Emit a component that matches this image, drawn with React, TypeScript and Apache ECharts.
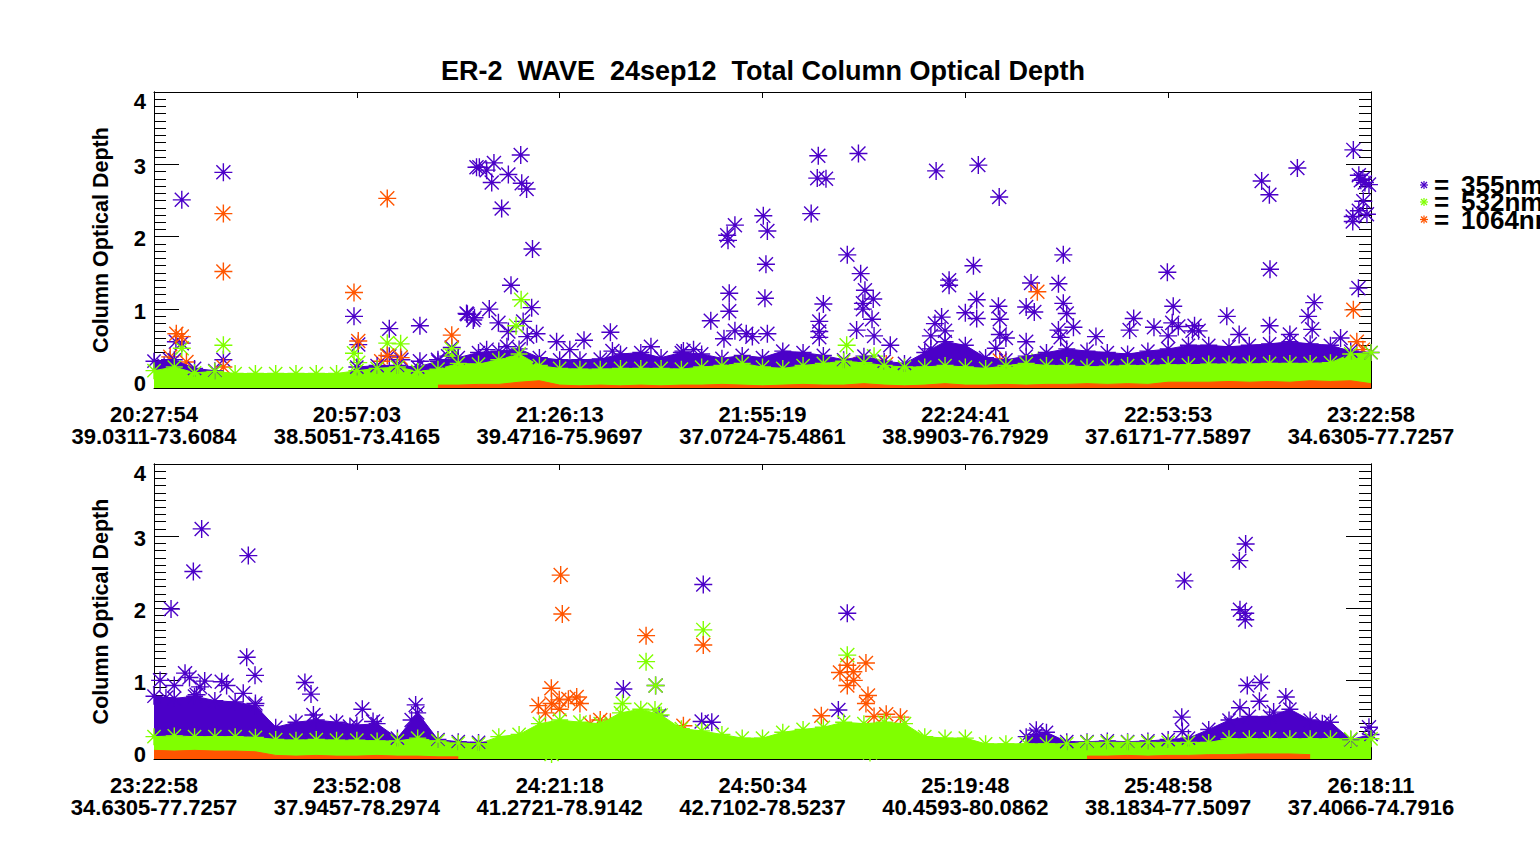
import { useEffect, useRef } from 'react';
import * as echarts from 'echarts';

// x axis tick labels (time + lat/lon), one entry per major tick
const TOP_TIMES = ['20:27:54', '20:57:03', '21:26:13', '21:55:19', '22:24:41', '22:53:53', '23:22:58'];
const TOP_COORDS = ['39.0311-73.6084', '38.5051-73.4165', '39.4716-75.9697', '37.0724-75.4861', '38.9903-76.7929', '37.6171-77.5897', '34.6305-77.7257'];
const BOTTOM_TIMES = ['23:22:58', '23:52:08', '24:21:18', '24:50:34', '25:19:48', '25:48:58', '26:18:11'];
const BOTTOM_COORDS = ['34.6305-77.7257', '37.9457-78.2974', '41.2721-78.9142', '42.7102-78.5237', '40.4593-80.0862', '38.1834-77.5097', '37.4066-74.7916'];
const Y_LABELS = [0, 1, 2, 3, 4];
const LEGEND_NAMES = ['355nm', '532nm', '1064nm'];

// dense baseline bands: upper edge read every 0.1 tick-interval (x = 0..6)
const BAND_STEP = 0.1;
const TOP_355_BAND = [
  0.28, 0.30, 0.18, 0.15, null, null, null, null, null, null,
  0.20, 0.22, 0.22, 0.20, 0.28, 0.33, 0.40, 0.42, 0.45, 0.33,
  0.30, 0.30, 0.31, 0.38, 0.40, 0.33, 0.40, 0.38, 0.32, 0.36,
  0.33, 0.42, 0.40, 0.36, 0.30, 0.35, 0.28, 0.25, 0.40, 0.55,
  0.50, 0.33, 0.30, 0.35, 0.40, 0.45, 0.42, 0.40, 0.38, 0.42,
  0.45, 0.50, 0.50, 0.48, 0.50, 0.52, 0.55, 0.52, 0.50, 0.42, 0.40,
];
const TOP_532_BAND = [
  0.15, 0.20, 0.12, 0.14, 0.11, 0.11, 0.11, 0.11, 0.11, 0.11,
  0.15, 0.18, 0.20, 0.14, 0.17, 0.25, 0.24, 0.30, 0.38, 0.22,
  0.18, 0.17, 0.17, 0.18, 0.18, 0.18, 0.17, 0.20, 0.22, 0.25,
  0.20, 0.18, 0.22, 0.25, 0.28, 0.26, 0.22, 0.20, 0.20, 0.22,
  0.20, 0.18, 0.22, 0.25, 0.22, 0.22, 0.20, 0.21, 0.22, 0.22,
  0.23, 0.23, 0.24, 0.24, 0.24, 0.25, 0.25, 0.25, 0.26, 0.38, 0.40,
];
const TOP_1064_BAND = [
  null, null, null, null, null, null, null, null, null, null,
  null, null, null, null, -0.05, -0.05, -0.04, -0.04, -0.01, 0.01,
  -0.05, -0.06, -0.05, -0.06, -0.05, -0.06, -0.05, -0.05, -0.04, -0.05,
  -0.06, -0.05, -0.04, -0.05, -0.05, -0.03, -0.05, -0.06, -0.05, -0.03,
  -0.05, -0.05, -0.04, -0.05, -0.04, -0.04, -0.03, -0.04, -0.03, -0.04,
  -0.01, -0.01, -0.01, 0.0, -0.01, 0.0, -0.01, 0.01, 0.0, 0.01, -0.03,
];
const BOTTOM_355_BAND = [
  0.78, 0.75, 0.78, 0.72, 0.70, 0.65, 0.35, 0.42, 0.45, 0.42,
  0.38, 0.40, 0.20, 0.55, 0.18, 0.15, 0.14, null, null, null,
  null, null, null, null, null, null, null, null, null, null,
  null, null, null, null, null, null, null, null, null, null,
  null, null, null, 0.22, 0.28, 0.15, 0.15, 0.16, 0.15, 0.16,
  0.18, 0.20, 0.32, 0.45, 0.50, 0.50, 0.60, 0.45, 0.42, 0.18, 0.25,
];
const BOTTOM_532_BAND = [
  0.22, 0.23, 0.22, 0.22, 0.22, 0.21, 0.18, 0.17, 0.18, 0.17,
  0.17, 0.16, 0.16, 0.20, 0.16, 0.13, 0.12, 0.22, 0.25, 0.40,
  0.45, 0.42, 0.40, 0.55, 0.60, 0.52, 0.33, 0.30, 0.25, 0.20,
  0.20, 0.28, 0.32, 0.35, 0.42, 0.40, 0.42, 0.40, 0.22, 0.20,
  0.20, 0.12, 0.12, 0.12, 0.12, 0.12, 0.14, 0.14, 0.14, 0.14,
  0.14, 0.14, 0.14, 0.19, 0.19, 0.19, 0.19, 0.19, 0.19, 0.19, 0.19,
];
const BOTTOM_1064_BAND = [
  0.03, 0.02, 0.03, 0.02, 0.02, 0.01, -0.04, -0.05, -0.04, -0.05,
  -0.05, -0.04, -0.05, -0.05, -0.06, -0.06, null, null, null, null,
  null, null, null, null, null, null, null, null, null, null,
  null, null, null, null, null, null, null, null, null, null,
  null, null, null, null, null, null, -0.05, -0.05, -0.04, -0.05,
  -0.04, -0.04, -0.03, -0.03, -0.02, -0.02, -0.02, -0.03, null, null, null,
];

// individual asterisks above the bands [x in tick-intervals, optical depth]
const TOP_355_PTS = [
  [0.05, 0.22], [0.079, 0.30], [0.108, 0.55], [0.137, 0.53], [0.137, 2.51], [0.342, 2.89], [0.342, 0.30],
  [0.986, 0.90], [1.007, 0.51], [1.16, 0.73], [1.16, 0.35], [1.22, 0.30], [1.311, 0.77], [1.311, 0.28],
  [1.40, 0.30], [1.45, 0.35], [1.468, 0.47], [1.541, 0.94], [1.58, 0.88], [1.59, 2.96],
  [1.604, 2.96], [1.64, 2.92], [1.676, 3.02], [1.665, 2.75], [1.747, 2.86], [1.808, 3.13], [1.813, 2.74],
  [1.837, 2.66], [1.714, 2.39], [1.866, 1.83], [1.76, 1.33], [1.545, 0.93], [1.574, 0.85], [1.653, 1.00],
  [1.698, 0.81], [1.747, 0.69], [1.82, 0.83], [1.862, 1.02], [1.886, 0.66], [1.84, 0.62], [1.985, 0.55],
  [2.05, 0.44], [2.12, 0.57], [2.25, 0.68], [2.26, 0.42], [2.45, 0.48], [2.61, 0.42], [2.66, 0.44],
  [1.64, 0.44], [1.74, 0.48],
  [3.275, 3.12], [3.27, 2.81], [3.313, 2.80], [3.24, 2.32], [2.864, 2.16], [2.826, 2.02], [2.83, 1.95],
  [3.004, 2.29], [3.024, 2.08], [3.017, 1.62], [3.012, 1.15], [2.836, 1.22], [2.836, 0.97], [2.745, 0.84],
  [3.30, 1.07], [3.28, 0.83], [3.28, 0.69], [2.864, 0.70], [2.92, 0.66], [2.95, 0.62], [3.024, 0.66],
  [2.81, 0.59], [3.28, 0.61],
  [3.473, 3.15], [3.856, 2.91], [4.064, 2.99], [4.167, 2.55], [3.418, 1.75], [3.484, 1.49], [3.505, 1.26],
  [3.546, 1.14], [3.495, 1.08], [3.495, 1.00], [3.54, 0.86], [3.464, 0.71], [3.55, 0.63], [3.63, 0.50],
  [3.92, 1.40], [3.92, 1.33], [4.04, 1.60], [4.056, 1.13], [4.0, 0.95], [4.056, 0.87], [3.883, 0.89],
  [3.85, 0.80], [3.9, 0.70], [3.83, 0.63], [3.83, 0.45], [4.163, 1.04], [4.17, 0.86], [4.17, 0.65],
  [4.2, 0.60], [4.15, 0.46], [4.30, 0.55], [4.30, 1.03], [4.324, 1.36], [4.34, 0.96], [4.483, 1.75],
  [4.459, 1.35], [4.483, 1.08], [4.5, 0.94], [4.533, 0.75], [4.459, 0.71], [4.47, 0.61], [4.996, 1.51],
  [5.025, 1.04], [5.02, 0.81], [5.05, 0.76], [5.0, 0.63], [4.83, 0.87], [4.81, 0.71], [4.93, 0.75],
  [4.644, 0.62], [5.12, 0.70], [5.15, 0.70],
  [5.461, 2.77], [5.499, 2.58], [5.637, 2.95], [5.502, 1.55], [5.913, 3.20], [5.94, 2.85], [5.96, 2.80],
  [5.97, 2.75], [5.99, 2.72], [5.95, 2.78], [5.962, 2.49], [5.91, 2.28], [5.91, 2.21], [5.94, 2.36],
  [5.98, 2.31], [5.938, 1.29], [5.72, 1.09], [5.69, 0.90], [5.289, 0.90], [5.13, 0.77], [5.5, 0.77],
  [5.71, 0.72], [5.6, 0.65], [5.35, 0.65], [5.85, 0.60],
];
const TOP_532_PTS = [
  [0.137, 0.46], [0.342, 0.50], [0.986, 0.39], [1.007, 0.26], [1.15, 0.53], [1.216, 0.52], [1.468, 0.45],
  [1.47, 0.35], [1.785, 0.77], [1.81, 1.13], [3.415, 0.50], [4.36, 0.29], [3.55, 0.35],
];
const TOP_1064_PTS = [
  [0.08, 0.34], [0.11, 0.66], [0.137, 0.62], [0.16, 0.27], [0.342, 2.32], [0.342, 1.52], [0.342, 0.20],
  [0.986, 1.23], [1.007, 0.56], [1.12, 0.28], [1.15, 2.53], [1.15, 0.36], [1.216, 0.33], [1.468, 0.64],
  [3.42, 0.24], [3.61, 0.24], [4.17, 0.29], [4.355, 1.24], [5.75, 0.32], [5.913, 0.99], [5.93, 0.55],
  [5.96, 0.44],
];
const BOTTOM_355_PTS = [
  [0.03, 1.00], [0.084, 1.99], [0.059, 0.76], [0.10, 0.93], [0.153, 1.10], [0.175, 1.04], [0.194, 2.51],
  [0.21, 0.80], [0.227, 0.91], [0.235, 3.10], [0.25, 0.99], [0.334, 0.98], [0.358, 0.93], [0.44, 0.82],
  [0.457, 1.32], [0.465, 2.73], [0.498, 1.07], [0.5, 0.68], [0.744, 0.97], [0.774, 0.81], [0.786, 0.52],
  [0.966, 0.36], [1.027, 0.60], [1.08, 0.43], [1.27, 0.45], [1.29, 0.66],
  [2.314, 0.88], [2.473, 0.93], [2.49, 0.51], [2.70, 0.43], [2.708, 2.33], [2.75, 0.42], [3.374, 0.59],
  [3.418, 1.93],
  [4.35, 0.31], [4.35, 0.25], [5.067, 0.49], [5.07, 0.29], [5.08, 2.38], [5.31, 0.39], [5.351, 2.66],
  [5.354, 1.98], [5.354, 0.62], [5.38, 1.93], [5.38, 1.84], [5.382, 2.89], [5.39, 0.93], [5.45, 0.71],
  [5.458, 0.97], [5.52, 0.56], [5.58, 0.77], [5.6, 0.43], [5.76, 0.40], [5.99, 0.35],
];
const BOTTOM_532_PTS = [
  [2.31, 0.68], [2.426, 1.26], [2.47, 0.59], [2.473, 0.93], [2.708, 1.70], [3.418, 1.35], [1.96, -0.02],
  [3.53, 0.0],
];
const BOTTOM_1064_PTS = [
  [0.59, 0.25], [1.895, 0.65], [1.959, 0.89], [1.96, 0.68], [1.998, 0.73], [2.005, 2.46], [2.013, 1.92],
  [2.043, 0.74], [2.084, 0.77], [2.10, 0.68], [2.20, 0.45], [2.25, 0.42], [2.426, 1.62], [2.61, 0.37],
  [2.708, 1.49], [3.29, 0.51], [3.382, 1.11], [3.418, 1.21], [3.418, 0.93], [3.448, 1.12], [3.45, 1.00],
  [3.51, 1.24], [3.52, 0.79], [3.51, 0.68], [3.55, 0.50], [3.61, 0.53], [3.68, 0.49], [1.93, 0.55],
  [2.0, 0.60], [2.15, 0.40], [2.3, 0.38],
];

const PURPLE = '#4b00c8';
const GREEN = '#80ff00';
const ORANGE = '#ff5500';
const FONT = '"Liberation Sans", Arial, Helvetica, sans-serif';
const STAR = 'path://M5,0L5,10M0,5L10,5M1.1,1.1L8.9,8.9M1.1,8.9L8.9,1.1';
const Y_MIN = -0.09;
const Y_MAX = 4;
const MINOR_TICKS = Array.from({ length: 39 }, (_, i) => (i + 1) / 10);

const bandSeries = (vals: (number | null)[], color: string, g: number, stars: boolean) => ({
  type: 'line',
  xAxisIndex: g * 2,
  yAxisIndex: g * 4,
  data: vals.map((v, i) => [Math.round(i * BAND_STEP * 10) / 10, v === null ? '-' : v]),
  symbol: STAR,
  symbolSize: 17,
  showSymbol: stars,
  lineStyle: { color, width: 1 },
  itemStyle: { color, borderColor: color, borderWidth: 1.4 },
  areaStyle: { color, opacity: 1, origin: 'start' },
  silent: true,
});

const starSeries = (pts: number[][], color: string, g: number) => ({
  type: 'scatter',
  xAxisIndex: g * 2,
  yAxisIndex: g * 4,
  data: pts,
  symbol: STAR,
  symbolSize: 18,
  itemStyle: { color, borderColor: color, borderWidth: 1.4, opacity: 1 },
  clip: false,
  silent: true,
});

const black = { color: '#000', width: 1 };
const labelText = { fontSize: 22, fontWeight: 'bold', fontFamily: FONT, color: '#000' };

const xAxes = (g: number, times: string[], coords: string[]) => [
  {
    gridIndex: g, type: 'value', min: 0, max: 6, interval: 1, position: 'bottom',
    axisLine: { onZero: false, lineStyle: black },
    axisTick: { inside: true, length: 6, lineStyle: black },
    splitLine: { show: false },
    axisLabel: {
      margin: 15,
      showMinLabel: true,
      showMaxLabel: true,
      formatter: (v: number) => `{t|${times[Math.round(v)]}}\n{t|${coords[Math.round(v)]}}`,
      rich: { t: { ...labelText, lineHeight: 22 } },
    },
  },
  {
    gridIndex: g, type: 'value', min: 0, max: 6, interval: 1, position: 'top',
    axisLine: { onZero: false, lineStyle: black },
    axisTick: { inside: true, length: 6, lineStyle: black },
    splitLine: { show: false },
    axisLabel: { show: false },
  },
];

const yAxes = (g: number) => {
  const base = {
    gridIndex: g, type: 'value', min: Y_MIN, max: Y_MAX,
    axisLine: { show: true, onZero: false, lineStyle: black },
    splitLine: { show: false },
  };
  const major = { inside: true, length: 25, customValues: Y_LABELS, lineStyle: black };
  const minor = { inside: true, length: 12, customValues: MINOR_TICKS, lineStyle: black };
  return [
    {
      ...base, position: 'left', axisTick: major,
      axisLabel: {
        customValues: Y_LABELS,
        margin: 8,
        formatter: (v: number) => (v === 4 ? `{top|${v}}` : `{n|${v}}`),
        rich: {
          n: { ...labelText, padding: [4, 0, 0, 0] },
          top: { ...labelText, padding: [18, 0, 0, 0] },
        },
      },
      name: 'Column Optical Depth',
      nameLocation: 'middle',
      nameGap: 42,
      nameTextStyle: { ...labelText, fontSize: 21.5 },
    },
    { ...base, position: 'left', axisTick: minor, axisLabel: { show: false } },
    { ...base, position: 'right', axisTick: major, axisLabel: { show: false } },
    { ...base, position: 'right', axisTick: minor, axisLabel: { show: false } },
  ];
};

const legendItem = (name: string, color: string, y: number) => ({
  type: 'group',
  children: [
    { type: 'line', shape: { x1: 1424, y1: y - 4, x2: 1424, y2: y + 4 }, style: { stroke: color, lineWidth: 1.2 } },
    { type: 'line', shape: { x1: 1420, y1: y, x2: 1428, y2: y }, style: { stroke: color, lineWidth: 1.2 } },
    { type: 'line', shape: { x1: 1421, y1: y - 3, x2: 1427, y2: y + 3 }, style: { stroke: color, lineWidth: 1.2 } },
    { type: 'line', shape: { x1: 1421, y1: y + 3, x2: 1427, y2: y - 3 }, style: { stroke: color, lineWidth: 1.2 } },
    {
      type: 'text', x: 1434, y,
      style: { text: '=', fontSize: 26, fontWeight: 'bold', fontFamily: FONT, fill: '#000', verticalAlign: 'middle' },
    },
    {
      type: 'text', x: 1461, y,
      style: { text: name, fontSize: 26, fontWeight: 'bold', fontFamily: FONT, fill: '#000', verticalAlign: 'middle' },
    },
  ],
});

export default function App() {
  const chartRef = useRef<HTMLDivElement>(null);

  useEffect(() => {
    if (!chartRef.current) return;
    const chart = echarts.init(chartRef.current, undefined, { renderer: 'svg' });

    chart.setOption({
      animation: false,
      backgroundColor: '#fff',
      grid: [
        { left: 154, top: 92, width: 1217, height: 296 },
        { left: 154, top: 464, width: 1217, height: 295 },
      ],
      xAxis: [...xAxes(0, TOP_TIMES, TOP_COORDS), ...xAxes(1, BOTTOM_TIMES, BOTTOM_COORDS)],
      yAxis: [...yAxes(0), ...yAxes(1)],
      series: [
        bandSeries(TOP_355_BAND, PURPLE, 0, true),
        starSeries(TOP_355_PTS, PURPLE, 0),
        bandSeries(TOP_532_BAND, GREEN, 0, true),
        starSeries(TOP_532_PTS, GREEN, 0),
        bandSeries(TOP_1064_BAND, ORANGE, 0, false),
        starSeries(TOP_1064_PTS, ORANGE, 0),
        bandSeries(BOTTOM_355_BAND, PURPLE, 1, true),
        starSeries(BOTTOM_355_PTS, PURPLE, 1),
        bandSeries(BOTTOM_532_BAND, GREEN, 1, true),
        starSeries(BOTTOM_532_PTS, GREEN, 1),
        bandSeries(BOTTOM_1064_BAND, ORANGE, 1, false),
        starSeries(BOTTOM_1064_PTS, ORANGE, 1),
      ],
      graphic: [
        {
          type: 'text', x: 763, y: 71,
          style: {
            text: 'ER-2  WAVE  24sep12  Total Column Optical Depth',
            fontSize: 27, fontWeight: 'bold', fontFamily: FONT, fill: '#000',
            align: 'center', verticalAlign: 'middle',
          },
        },
        legendItem(LEGEND_NAMES[0], PURPLE, 185),
        legendItem(LEGEND_NAMES[1], GREEN, 202),
        legendItem(LEGEND_NAMES[2], ORANGE, 219.5),
      ],
    });

    return () => chart.dispose();
  }, []);

  return (
    <div
      ref={chartRef}
      style={{ position: 'fixed', left: 0, top: 0, width: 1540, height: 845, background: '#fff' }}
    />
  );
}
